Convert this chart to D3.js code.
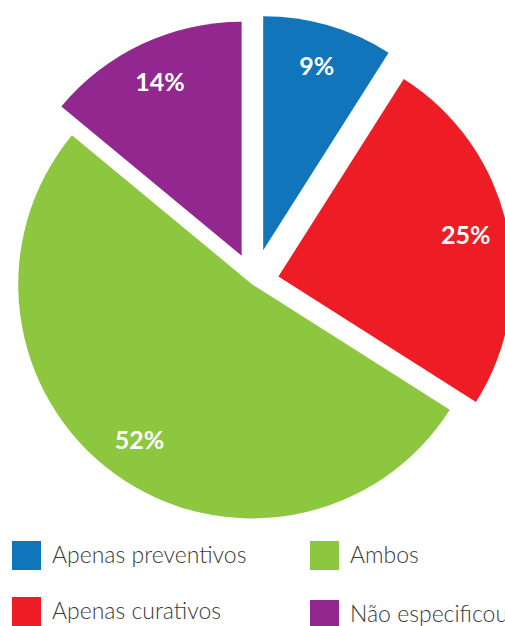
<!DOCTYPE html>
<html>
<head>
<meta charset="utf-8">
<script src="https://cdn.jsdelivr.net/npm/d3@7"></script>
<style>
  html, body { margin: 0; padding: 0; background: #fff; }
  svg { display: block; }
</style>
</head>
<body>
<svg id="chart" width="505" height="626"></svg>
<script>
// ---- data ----
const categories = ["Apenas preventivos", "Apenas curativos", "Ambos", "Não especificou"];
const values = [9, 25, 52, 14];
const valueLabels = ["9%", "25%", "52%", "14%"];
const colors = ["#1175bc", "#ee1c25", "#8dc63f", "#92278f"];
const explode = [33, 25, 3, 29]; // offset of each slice from the centre (style)

// ---- layout ----
const W = 505, H = 626;
const cx = 254, cy = 282, R = 234, labelR = 192;

const svg = d3.select("#chart");

const pie = d3.pie().sort(null).value(d => d)(values);
const arc = d3.arc().innerRadius(0).outerRadius(R);

const g = svg.append("g").attr("transform", `translate(${cx},${cy})`);

const slices = g.selectAll("g.slice")
  .data(pie)
  .join("g")
  .attr("class", "slice")
  .attr("transform", (d, i) => {
    const a = (d.startAngle + d.endAngle) / 2;
    return `translate(${explode[i] * Math.sin(a)},${-explode[i] * Math.cos(a)})`;
  });

slices.append("path")
  .attr("d", arc)
  .attr("fill", (d, i) => colors[i]);

slices.append("text")
  .attr("transform", d => {
    const a = (d.startAngle + d.endAngle) / 2;
    return `translate(${labelR * Math.sin(a)},${-labelR * Math.cos(a)})`;
  })
  .attr("text-anchor", "middle")
  .attr("dy", "0.36em")
  .attr("fill", "#fff")
  .style("font-family", "Lato, 'Open Sans', sans-serif")
  .style("font-weight", "700")
  .style("font-size", "25px")
  .text((d, i) => valueLabels[i]);

// ---- legend ----
const colX = d3.scaleOrdinal().domain([0, 1]).range([12, 310]);
const rowY = d3.scaleOrdinal().domain([0, 1]).range([541, 597]);
const legendOrder = [[0, 0, 0], [1, 0, 1], [2, 1, 0], [3, 1, 1]]; // [index, col, row]

const leg = svg.append("g").selectAll("g")
  .data(legendOrder)
  .join("g")
  .attr("transform", d => `translate(${colX(d[1])},${rowY(d[2]) + (d[1] === 1 && d[2] === 1 ? 3 : 0)})`);

leg.append("rect")
  .attr("width", 29).attr("height", 29)
  .attr("fill", d => colors[d[0]]);

leg.append("text")
  .attr("x", 40)
  .attr("y", 22)
  .attr("fill", "#3a3a3a")
  .style("font-family", "Lato, sans-serif")
  .style("font-weight", "300")
  .style("font-size", "23px")
  .text(d => categories[d[0]]);
</script>
</body>
</html>
